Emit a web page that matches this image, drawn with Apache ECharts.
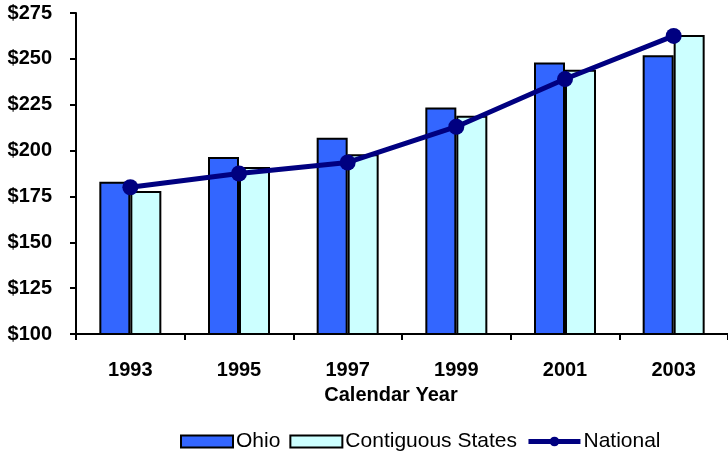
<!DOCTYPE html>
<html>
<head>
<meta charset="utf-8">
<script src="https://cdn.jsdelivr.net/npm/echarts@6/dist/echarts.min.js"></script>
<style>
  html, body { margin: 0; padding: 0; background: #ffffff; }
  #chart { width: 728px; height: 453px; }
</style>
</head>
<body>
<div id="chart"></div>
<script>
// Average monthly cost by calendar year
var years = ['1993', '1995', '1997', '1999', '2001', '2003'];
var ohio = [183, 196.5, 207, 223.5, 248, 252];
var contiguous = [178, 191, 198, 219, 244, 263];
var national = [180, 187.5, 193.5, 213, 239, 262.5];

var FONT = '"Liberation Sans", Arial, sans-serif';

var chart = echarts.init(document.getElementById('chart'), null, { renderer: 'canvas' });

chart.setOption({
  animation: false,
  backgroundColor: '#ffffff',
  textStyle: { fontFamily: FONT },
  grid: { left: 76, top: 13, width: 656, height: 321, containLabel: false },
  legend: {
    top: 426,
    left: 175,
    itemWidth: 52,
    itemHeight: 12,
    itemGap: 9,
    textStyle: { fontFamily: FONT, fontSize: 21, color: '#000000', padding: [2, 0, 0, -2] },
    data: [
      { name: 'Ohio', icon: 'rect', itemStyle: { borderWidth: 2 } },
      { name: 'Contiguous States', icon: 'rect', itemStyle: { borderWidth: 2 } },
      { name: 'National', lineStyle: { width: 5 } }
    ]
  },
  xAxis: {
    type: 'category',
    data: years,
    name: 'Calendar Year',
    nameLocation: 'middle',
    nameGap: 51,
    nameTextStyle: { fontFamily: FONT, fontSize: 20, fontWeight: 'bold', color: '#000000', padding: [0, 22, 0, 0] },
    axisLine: { lineStyle: { color: '#000000', width: 2 } },
    axisTick: { show: true, length: 6, lineStyle: { color: '#000000', width: 2 } },
    axisLabel: { fontFamily: FONT, fontSize: 20, fontWeight: 'bold', color: '#000000', margin: 26 },
    splitLine: { show: false }
  },
  yAxis: {
    type: 'value',
    min: 100,
    max: 275,
    interval: 25,
    axisLine: { show: true, lineStyle: { color: '#000000', width: 2 } },
    axisTick: { show: true, length: 6, lineStyle: { color: '#000000', width: 2 } },
    axisLabel: {
      fontFamily: FONT, fontSize: 20, fontWeight: 'bold', color: '#000000', margin: 24,
      formatter: function (v) { return '$' + v; }
    },
    splitLine: { show: false }
  },
  series: [
    {
      name: 'Ohio',
      type: 'bar',
      data: ohio,
      barWidth: 31,
      barGap: '0%',
      itemStyle: { color: '#3366ff', borderColor: '#000000', borderWidth: 2 }
    },
    {
      name: 'Contiguous States',
      type: 'bar',
      data: contiguous,
      barWidth: 31,
      barGap: '0%',
      itemStyle: { color: '#ccffff', borderColor: '#000000', borderWidth: 2 }
    },
    {
      name: 'National',
      type: 'line',
      data: national,
      symbol: 'circle',
      symbolSize: 16,
      lineStyle: { color: '#000080', width: 5 },
      itemStyle: { color: '#000080' },
      z: 5
    }
  ]
});
</script>
</body>
</html>
